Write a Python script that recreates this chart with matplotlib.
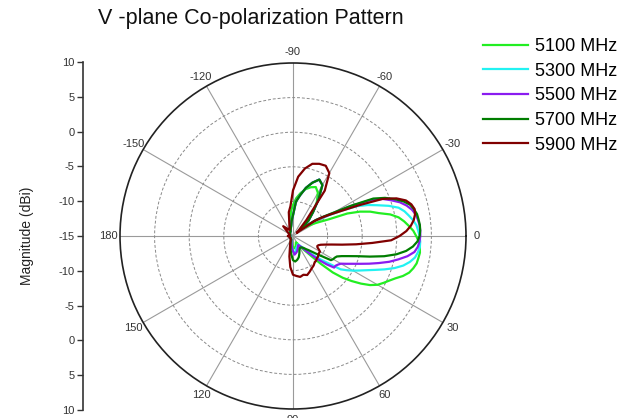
import numpy as np
import matplotlib
matplotlib.use('Agg')
import matplotlib.pyplot as plt

plt.rcParams['font.family'] = ['Liberation Sans', 'DejaVu Sans']

# angles in degrees (0 = right, positive clockwise)
angles = ([-180, -165, -150, -135, -120, -110, -100, -95, -90, -85, -80, -75, -70, -65,
           -60, -55, -50, -45, -40]
          + [-35, -32.5, -30, -27.5, -25, -22.5, -20, -17.5, -15, -12.5, -10, -7.5, -5, -2.5,
             0, 2.5, 5, 7.5, 10, 12.5, 15, 17.5, 20, 22.5, 25, 27.5, 30, 32.5, 35, 37.5,
             40, 42.5, 45, 47.5, 50]
          + [55, 60, 65, 70, 75, 80, 85, 90, 95, 100, 110, 120, 135, 150, 165, 180])

mag_5100 = ([-14.5, -14.6, -14.5, -14.3, -14.3, -14.0, -13.0, -11.5, -10.5, -9.5, -8.7, -8.0, -7.5, -7.2,
             -7.8, -9.0, -10.5, -12.0, -13.3]
            + [-12.8, -12.0, -11.3, -10.5, -9.3, -6.5, -4.7, -3.3, -2.2, -0.6, 0.5, 1.2, 1.8, 2.4,
               2.8, 3.2, 3.4, 3.5, 3.4, 3.3, 3.0, 2.6, 1.9, 1.0, 0.3, -0.3, -0.9, -1.8, -3.0, -4.3,
               -5.6, -7.2, -9.3, -11.0, -12.0]
            + [-13.0, -13.8, -14.0, -13.8, -13.5, -13.3, -13.2, -13.4, -13.8, -14.2, -14.4, -14.5, -14.5, -14.6, -14.5, -14.5])
mag_5300 = ([-14.5, -14.6, -14.5, -14.3, -14.3, -14.0, -13.5, -12.8, -12.0, -10.0, -9.0, -7.8, -6.8, -6.0,
             -6.5, -8.6, -10.5, -11.8, -13.5]
            + [-11.3, -10.3, -9.0, -7.0, -4.8, -3.3, -2.0, -0.5, 0.8, 1.5, 2.0, 2.5, 2.9, 3.1,
               3.3, 3.4, 3.4, 3.2, 2.9, 2.3, 1.5, 0.4, -0.9, -2.2, -3.3, -4.2, -5.0, -5.8, -6.6, -8.5,
               -9.6, -10.6, -11.5, -12.2, -12.8]
            + [-13.3, -13.6, -13.5, -13.3, -13.2, -12.8, -12.6, -12.8, -13.3, -13.8, -14.3, -14.5, -14.5, -14.6, -14.5, -14.5])
mag_5500 = ([-14.5, -14.6, -14.5, -14.3, -14.3, -14.0, -13.5, -12.8, -12.0, -10.0, -9.0, -7.8, -6.8, -6.0,
             -6.5, -8.6, -10.5, -11.8, -13.5]
            + [-11.0, -10.0, -8.5, -5.8, -2.8, -1.0, 0.1, 1.2, 2.0, 2.6, 3.0, 3.2, 3.35, 3.4,
               3.4, 3.3, 3.1, 2.7, 1.8, 0.6, -0.6, -2.0, -3.3, -4.5, -5.5, -6.3, -7.0, -7.3, -7.5, -7.5,
               -8.6, -9.8, -11.0, -11.8, -12.5]
            + [-13.2, -13.5, -13.3, -13.0, -12.7, -12.5, -12.3, -12.8, -13.3, -13.8, -14.3, -14.5, -14.5, -14.6, -14.5, -14.5])
mag_5700 = ([-14.5, -14.6, -14.5, -14.3, -14.3, -14.0, -13.5, -12.8, -12.0, -10.0, -9.0, -7.8, -6.8, -6.0,
             -6.5, -8.6, -10.5, -11.8, -13.5]
            + [-11.0, -9.8, -8.3, -5.5, -2.2, -0.6, 0.6, 1.7, 2.5, 2.9, 3.2, 3.3, 3.4, 3.4,
               3.3, 3.0, 2.4, 1.5, 0.2, -1.5, -3.5, -5.3, -6.5, -7.4, -8.0, -8.2, -8.3, -8.5, -9.9, -10.8,
               -11.5, -12.0, -12.3, -12.6, -12.8]
            + [-13.0, -13.0, -12.8, -12.3, -11.8, -11.5, -11.3, -11.5, -12.3, -13.0, -14.0, -14.5, -14.5, -14.6, -14.5, -14.5])
mag_5900 = ([-14.3, -14.5, -14.3, -13.0, -14.0, -13.5, -11.5, -10.7, -8.4, -6.4, -5.1, -4.2, -3.9, -3.8,
             -4.5, -7.0, -12.0, -13.8, -14.3]
            + [-11.3, -10.0, -8.8, -7.2, -4.5, -1.0, 0.9, 2.1, 2.7, 3.0, 2.9, 2.6, 2.1, 1.4,
               0.4, -0.8, -3.5, -5.8, -7.8, -9.3, -10.2, -10.8, -11.1, -11.2, -11.1, -10.8, -10.5, -10.5, -10.5, -10.4,
               -10.3, -10.3, -10.2, -10.1, -10.1]
            + [-9.8, -9.6, -9.3, -9.0, -9.2, -9.0, -9.2, -9.4, -10.5, -12.0, -13.8, -14.3, -14.5, -14.5, -14.5, -14.3])

series = [('5100 MHz', mag_5100, '#22ee22'),
          ('5300 MHz', mag_5300, '#22f2f2'),
          ('5500 MHz', mag_5500, '#8a1cf0'),
          ('5700 MHz', mag_5700, '#007d00'),
          ('5900 MHz', mag_5900, '#800000')]

theta_ticks = [0, 30, 60, 90, 120, 150, 180, 210, 240, 270, 300, 330]
theta_labels = ['0', '30', '60', '90', '120', '150', '180', '-150', '-120', '-90', '-60', '-30']
ring_ticks = [-10, -5, 0, 5]
side_labels = ['10', '5', '0', '-5', '-10', '-15', '-10', '-5', '0', '5', '10']

fig = plt.figure(figsize=(6.37, 4.18), dpi=100)
ax = fig.add_axes([120 / 637, 9 / 418, 346 / 637, 346 / 418], projection='polar')
ax.set_theta_zero_location('E')
ax.set_theta_direction(-1)
ax.set_rlim(-15, 10)

th = np.deg2rad(angles)
for name, vals, col in series:
    ax.plot(th, vals, color=col, lw=1.6, label=name)

ax.set_thetagrids(theta_ticks, theta_labels, fontsize=8, color='#333333')
ax.set_xticks(np.deg2rad(np.arange(15, 360, 30)), minor=True)
ax.tick_params(axis='x', which='both', direction='in', length=5, width=1, pad=1, color='#222222')
ax.set_rticks(ring_ticks)
ax.set_yticklabels([])
ax.yaxis.grid(True, ls=(0, (3, 2)), color='#8a8a8a', lw=0.7)
ax.xaxis.grid(True, ls='-', color='#9a9a9a', lw=0.8)
ax.spines['polar'].set_color('#222222')
ax.spines['polar'].set_linewidth(1.2)

# side magnitude scale
ax2 = fig.add_axes([83 / 637, 8 / 418, 0.0001, 348 / 418])
ax2.set_ylim(len(side_labels) - 1, 0)
ax2.set_yticks(range(len(side_labels)))
ax2.set_yticklabels(side_labels, fontsize=8, color='#333333')
ax2.set_xticks([])
for s in ['top', 'right', 'bottom']:
    ax2.spines[s].set_visible(False)
ax2.spines['left'].set_color('#333333')
ax2.spines['left'].set_linewidth(1.2)
ax2.tick_params(axis='y', length=4, width=1, pad=2, color='#333333')
ax2.set_ylabel('Magnitude (dBi)', fontsize=10, labelpad=18, color='#222222')

fig.text(0.393, 0.955, 'V -plane Co-polarization Pattern', fontsize=15.5,
         ha='center', va='center', color='#111111')

ax.legend(loc='upper left', bbox_to_anchor=(476 / 637, 1 - 31 / 418), bbox_transform=fig.transFigure,
          frameon=False, fontsize=13, handlelength=2.5, labelspacing=0.42, handletextpad=0.35,
          borderaxespad=0)

fig.savefig('out.png', dpi=100)
